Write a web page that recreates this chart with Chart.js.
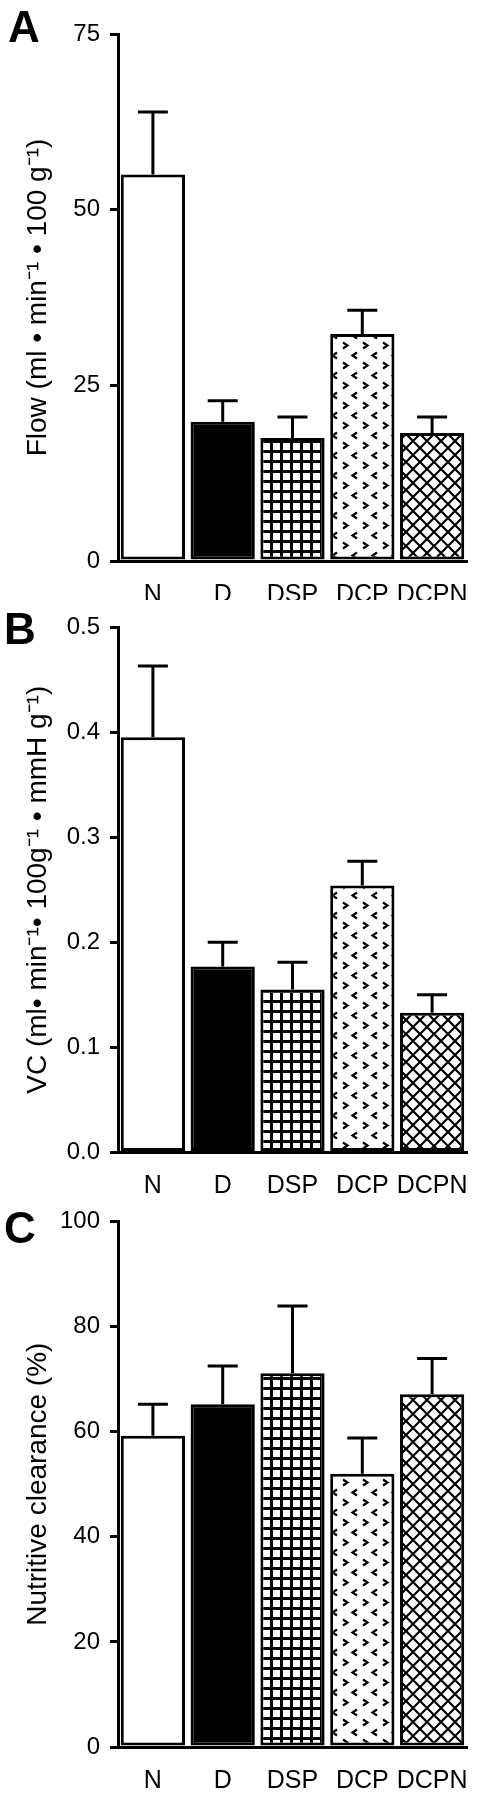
<!DOCTYPE html>
<html lang="en">
<head>
  <meta charset="UTF-8">
  <title>Flow, vascular conductance and nutritive clearance</title>
  <script src="https://cdn.jsdelivr.net/npm/chart.js@4.4.1/dist/chart.umd.min.js"></script>
  <style>
    body {
      margin: 0;
      background: #fff;
      width: 494px;
      height: 1800px;
      position: relative;
      font-family: 'Liberation Sans', Arial, sans-serif;
    }

    canvas {
      position: absolute;
      left: 0;
    }

    .letter {
      position: absolute;
      font-weight: bold;
      font-size: 44px;
      line-height: 44px;
      color: #000;
    }
  </style>
</head>
<body>

  <canvas id="flowChart" style="top:0px;width:494px;height:600px" width="494" height="600"></canvas>
  <canvas id="vcChart" style="top:600px;width:494px;height:597px" width="494" height="597"></canvas>
  <canvas id="clearChart" style="top:1197px;width:494px;height:603px" width="494" height="603"></canvas>

  <div class="letter" style="left:8px;top:5px">A</div>
  <div class="letter" style="left:4px;top:607px">B</div>
  <div class="letter" style="left:4px;top:1206px">C</div>

  <script>
    const groups = ["N", "D", "DSP", "DCP", "DCPN"];

    // panel A - flow
    const flowMean = [55.0, 19.8, 17.5, 32.3, 18.2];
    const flowSem = [8.9, 3.0, 3.0, 3.4, 2.3];
    const flowTicks = ["0", "25", "50", "75"];

    // panel B - vascular conductance
    const vcMean = [0.395, 0.177, 0.155, 0.254, 0.133];
    const vcSem = [0.068, 0.023, 0.026, 0.023, 0.017];
    const vcTicks = ["0.0", "0.1", "0.2", "0.3", "0.4", "0.5"];

    // panel C - nutritive clearance
    const clearMean = [59.2, 65.2, 71.1, 52.0, 67.1];
    const clearSem = [6.0, 7.3, 12.8, 6.8, 6.8];
    const clearTicks = ["0", "20", "40", "60", "80", "100"];

    Chart.defaults.font.family = "'Liberation Sans', Arial, sans-serif";
    Chart.defaults.color = "#000";

    function tile(w, h, draw) {
      const c = document.createElement("canvas");
      c.width = w;
      c.height = h;
      const g = c.getContext("2d");
      g.fillStyle = "#fff";
      g.fillRect(0, 0, w, h);
      draw(g);
      return g.createPattern(c, "repeat");
    }

    // small squares
    const gridFill = tile(10, 10, g => {
      g.fillStyle = "#000";
      g.fillRect(0, 0, 10, 3);
      g.fillRect(0, 0, 3, 10);
    });

    // little > and < marks
    const chevronFill = tile(20, 20, g => {
      g.strokeStyle = "#000";
      g.lineWidth = 2.2;
      g.beginPath();
      g.moveTo(3, 2.5); g.lineTo(7.5, 5.5); g.lineTo(3, 8.5);
      g.moveTo(17, 12.5); g.lineTo(12.5, 15.5); g.lineTo(17, 18.5);
      g.stroke();
    });

    // diagonal cross hatch
    const crossFill = tile(14, 14, g => {
      g.strokeStyle = "#000";
      g.lineWidth = 2.2;
      g.beginPath();
      g.moveTo(-1, -1); g.lineTo(15, 15);
      g.moveTo(15, -1); g.lineTo(-1, 15);
      g.stroke();
    });

    const fills = ["#fff", "#000", gridFill, chevronFill, crossFill];

    const errorBars = {
      id: "errorBars",
      afterDatasetsDraw(chart, args, opts) {
        const ctx = chart.ctx;
        const y = chart.scales.y;
        const values = chart.data.datasets[0].data;
        chart.getDatasetMeta(0).data.forEach((bar, i) => {
          const top = y.getPixelForValue(values[i] + opts.errors[i]);
          ctx.save();
          ctx.strokeStyle = "#000";
          ctx.lineWidth = 3;
          ctx.beginPath();
          ctx.moveTo(bar.x, bar.y);
          ctx.lineTo(bar.x, top);
          ctx.moveTo(bar.x - 15, top);
          ctx.lineTo(bar.x + 15, top);
          ctx.stroke();
          ctx.restore();
        });
      }
    };

    function makeChart(id, p) {
      return new Chart(document.getElementById(id), {
        type: "bar",
        data: {
          labels: groups,
          datasets: [{
            data: p.means,
            backgroundColor: fills,
            borderColor: "#000",
            borderWidth: 3,
            borderSkipped: false,
            barPercentage: 0.92,
            categoryPercentage: 1
          }]
        },
        options: {
          responsive: false,
          animation: false,
          layout: { padding: { top: p.top, right: 27, left: 0, bottom: 0 } },
          plugins: {
            legend: { display: false },
            tooltip: { enabled: false },
            errorBars: { errors: p.errs }
          },
          scales: {
            x: {
              grid: { display: false },
              border: { display: true, color: "#000", width: 3 },
              ticks: {
                color: "#000",
                padding: 11,
                autoSkip: false,
                maxRotation: 0,
                minRotation: 0,
                font: { size: 25 }
              },
              afterFit: s => { s.height = p.xh; }
            },
            y: {
              min: 0,
              max: p.max,
              ticks: {
                stepSize: p.step,
                color: "#000",
                padding: 10,
                autoSkip: false,
                font: { size: 24 },
                callback: (v, i) => p.ticks[i]
              },
              grid: { drawOnChartArea: false, color: "#000", lineWidth: 3, tickLength: 8 },
              border: { display: true, color: "#000", width: 3 },
              title: {
                display: true,
                text: p.title,
                color: "#000",
                font: { size: 28 },
                padding: { top: 21, bottom: 0 }
              },
              afterFit: s => { s.width = 118; }
            }
          }
        },
        plugins: [errorBars]
      });
    }

    makeChart("flowChart", {
      means: flowMean, errs: flowSem, ticks: flowTicks,
      max: 75, step: 25, top: 34, xh: 39,
      title: "Flow (ml • min⁻¹ • 100 g⁻¹)"
    });

    makeChart("vcChart", {
      means: vcMean, errs: vcSem, ticks: vcTicks,
      max: 0.5, step: 0.1, top: 27, xh: 44.5,
      title: "VC (ml• min⁻¹• 100g⁻¹ • mmH g⁻¹)"
    });

    makeChart("clearChart", {
      means: clearMean, errs: clearSem, ticks: clearTicks,
      max: 100, step: 20, top: 20, xh: 53,
      title: "Nutritive clearance (%)"
    });
  </script>

</body>
</html>
